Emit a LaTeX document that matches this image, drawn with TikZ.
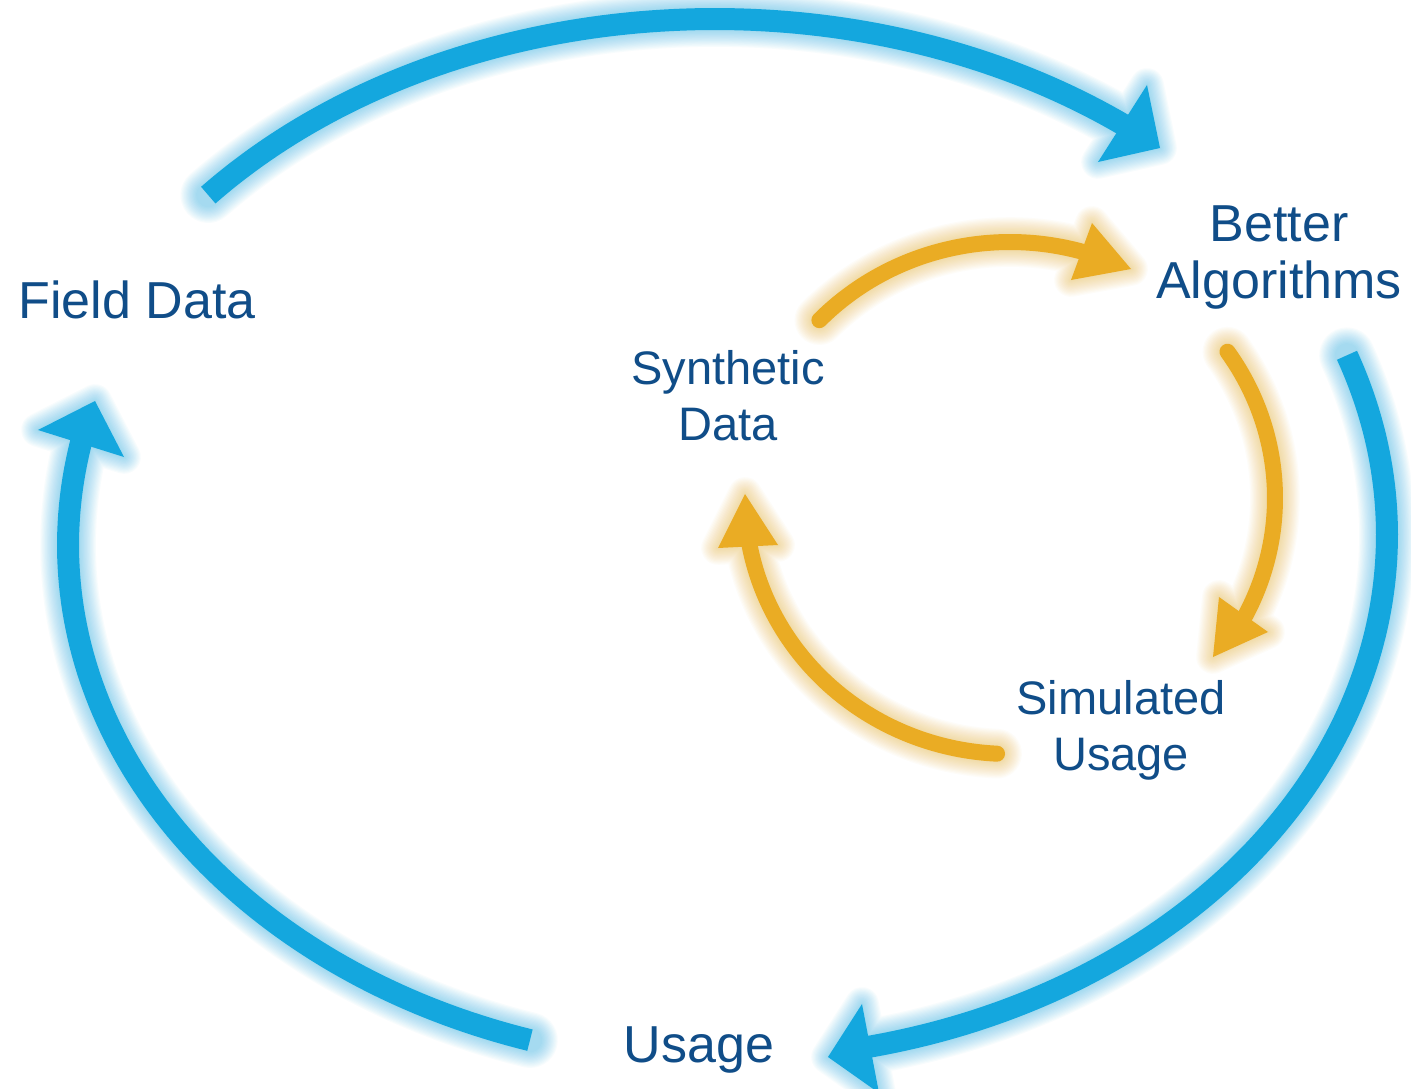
\documentclass[tikz,border=0pt]{standalone}
\usepackage{fontspec}
\setmainfont{Liberation Sans}
\definecolor{ringblue}{RGB}{20,167,222}
\definecolor{ringorange}{RGB}{234,172,36}
\definecolor{labelblue}{RGB}{16,77,136}

% Draws the shaft \shaft and the head \head in colour #1, shaft width #2,
% shaft cap #3, with a soft halo built from faint, widening strokes.
\newcommand\glowarrow[3]{%
  \foreach \k in {1,...,14}{%
    \begin{scope}[transparency group, opacity=0.033]
      \draw[#1, line width={#2pt+2.4pt*\k}, line cap=round, line join=round] \shaft;
      \filldraw[#1, line width={2.4pt*\k}, line join=round] \head;
    \end{scope}}%
  \draw[#1, line width=#2pt, line cap=#3] \shaft;
  \fill[#1] \head;
}

\begin{document}
\begin{tikzpicture}[x=1pt, y=-1pt,
  ringtext/.style={text=labelblue, inner sep=0pt, align=center, anchor=base},
  bigtext/.style={ringtext, font=\fontsize{52}{57}\selectfont},
  smalltext/.style={ringtext, font=\fontsize{47}{56}\selectfont}]

\fill[white] (0,0) rectangle (1411,1089);
\useasboundingbox (0,0) rectangle (1411,1089);

% ---------- outer cycle (blue) ----------
% Field Data -> Better Algorithms
\coordinate (oa1) at (1147,85);
\coordinate (oa2) at (1160,148);
\coordinate (oa3) at (1098,162);
\def\shaft{plot[domain=-138.85:-51.5, samples=90] ({715+673*cos(\x)},{534+515*sin(\x)})}
\def\head{(oa1) -- (oa2) -- (oa3) -- cycle}
\glowarrow{ringblue}{22}{butt}

% Better Algorithms -> Usage
\coordinate (ob1) at (862,1004);
\coordinate (ob2) at (828,1057);
\coordinate (ob3) at (879,1093);
\def\shaft{plot[domain=-20.06:79, samples=110] ({727.5+659.5*cos(\x)},{535+524*sin(\x)})}
\def\head{(ob1) -- (ob2) -- (ob3) -- cycle}
\glowarrow{ringblue}{22}{butt}

% Usage -> Field Data
\coordinate (oc1) at (38,430);
\coordinate (oc2) at (95,401);
\coordinate (oc3) at (124,457);
\def\shaft{plot[domain=107.43:193, samples=90] ({727.5+659.5*cos(\x)},{545+519*sin(\x)})}
\def\head{(oc1) -- (oc2) -- (oc3) -- cycle}
\glowarrow{ringblue}{22}{butt}

% ---------- inner cycle (orange) ----------
% Synthetic Data -> Better Algorithms
\coordinate (ia1) at (1092,223);
\coordinate (ia2) at (1131,269);
\coordinate (ia3) at (1071,280);
\def\shaft{plot[domain=-136:-72, samples=60] ({1010+265*cos(\x)},{498+256*sin(\x)})}
\def\head{(ia1) -- (ia2) -- (ia3) -- cycle}
\glowarrow{ringorange}{16}{round}

% Better Algorithms -> Simulated Usage
\coordinate (ib1) at (1219,597);
\coordinate (ib2) at (1268,632);
\coordinate (ib3) at (1213,657);
\def\shaft{plot[domain=-34.85:30, samples=60] ({1010+265*cos(\x)},{498+256*sin(\x)})}
\def\head{(ib1) -- (ib2) -- (ib3) -- cycle}
\glowarrow{ringorange}{16}{round}

% Simulated Usage -> Synthetic Data
\coordinate (ic1) at (718,548);
\coordinate (ic2) at (745,494);
\coordinate (ic3) at (778,545);
\def\shaft{plot[domain=92.8:172, samples=70] ({1010+265*cos(\x)},{498+256*sin(\x)})}
\def\head{(ic1) -- (ic2) -- (ic3) -- cycle}
\glowarrow{ringorange}{16}{round}

% ---------- labels (base anchor = baseline of the last line) ----------
\node[bigtext]   (field)     at (137,318)  {Field Data};
\node[bigtext]   (better)    at (1279,298) {Better\\Algorithms};
\node[bigtext]   (usage)     at (699,1062) {Usage};
\node[smalltext] (synthetic) at (728,440)  {Synthetic\\Data};
\node[smalltext] (simulated) at (1121,770) {Simulated\\Usage};
\end{tikzpicture}
\end{document}
